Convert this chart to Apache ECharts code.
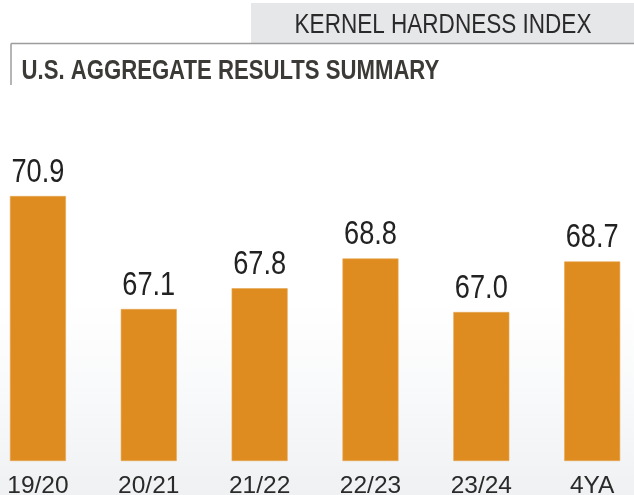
<!DOCTYPE html>
<html>
<head>
<meta charset="utf-8">
<script src="https://cdn.jsdelivr.net/npm/echarts@6/dist/echarts.min.js"></script>
<style>
html,body{margin:0;padding:0;background:#fff;}
#chart{width:634px;height:495px;}
</style>
</head>
<body>
<div id="chart"></div>
<script>
const categories = ['19/20', '20/21', '21/22', '22/23', '23/24', '4YA'];
const values = [70.9, 67.1, 67.8, 68.8, 67.0, 68.7];
const headerText = 'KERNEL HARDNESS INDEX';
const titleText = 'U.S. AGGREGATE RESULTS SUMMARY';

const REG = '"Liberation Sans", Arial, sans-serif';

const chart = echarts.init(document.getElementById('chart'), null, {renderer: 'canvas'});
chart.setOption({
  animation: false,
  backgroundColor: '#ffffff',
  graphic: [
    { type: 'rect', z: -10, silent: true,
      shape: { x: 0, y: 300, width: 634, height: 195 },
      style: { fill: new echarts.graphic.LinearGradient(0, 0, 0, 1, [
        { offset: 0, color: 'rgba(255,255,255,1)' },
        { offset: 0.5, color: 'rgba(248,249,250,1)' },
        { offset: 1, color: 'rgba(240,241,243,1)' }
      ]) } },
    { type: 'rect', silent: true,
      shape: { x: 251, y: 3, width: 383, height: 40 },
      style: { fill: '#e6e7e9' } },
    { type: 'line', silent: true,
      shape: { x1: 11, y1: 43.5, x2: 634, y2: 43.5 },
      style: { stroke: '#9c9c9c', lineWidth: 1.5 } },
    { type: 'line', silent: true,
      shape: { x1: 11, y1: 43.5, x2: 11, y2: 85 },
      style: { stroke: '#9c9c9c', lineWidth: 1.5 } },
    { type: 'text', silent: true, x: 443, y: 25, scaleX: 0.805,
      style: { text: headerText, fill: '#2a2a2a', font: '28px ' + REG,
               align: 'center', verticalAlign: 'middle' } },
    { type: 'text', silent: true, x: 21.5, y: 71.5, scaleX: 0.82,
      style: { text: titleText, fill: '#3b3a36', font: 'bold 27px ' + REG,
               align: 'left', verticalAlign: 'middle' } }
  ],
  grid: { left: -17.5, right: -13.6, top: 163.3, bottom: 34.3, containLabel: false, outerBoundsMode: 'none' },
  xAxis: {
    type: 'category',
    data: categories,
    axisLine: { show: false },
    axisTick: { show: false },
    axisLabel: { color: '#2a2a2a', fontSize: 24.5, fontFamily: REG, margin: 13 }
  },
  yAxis: {
    type: 'value', min: 62, max: 72, interval: 2,
    show: false,
    splitLine: { show: false }
  },
  series: [{
    type: 'bar',
    data: values,
    barWidth: 56,
    itemStyle: { color: '#de8c1f', borderColor: '#e8a654', borderWidth: 0.6 }
  }, {
    type: 'custom',
    data: values.map((v, i) => [i, v]),
    encode: { x: 0, y: 1 },
    z: 5,
    renderItem: function (params, api) {
      const p = api.coord([api.value(0), api.value(1)]);
      return {
        type: 'text',
        x: p[0], y: p[1] - 23.4, scaleX: 0.8,
        style: {
          text: api.value(1).toFixed(1),
          font: '34px ' + REG, fill: '#222222',
          align: 'center', verticalAlign: 'middle'
        }
      };
    }
  }]
});
</script>
</body>
</html>
